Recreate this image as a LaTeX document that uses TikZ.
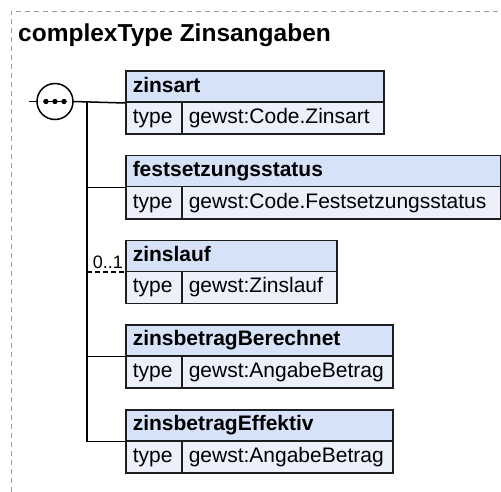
\documentclass[tikz,border=0pt]{standalone}
\usepackage{fontspec}
\setmainfont{Liberation Sans}
\definecolor{hdrc}{HTML}{D6E2F8}
\definecolor{rowc}{HTML}{EBF0FB}
\definecolor{bordc}{HTML}{1E1E1E}
\definecolor{framec}{HTML}{9A9A9A}
\tikzset{
  cell/.style={draw=bordc, line width=1.5pt, anchor=north west, inner xsep=7pt, inner ysep=0pt, align=left, text height=15.2pt, text depth=4pt},
  hdr/.style={cell, fill=hdrc, minimum height=31pt, font=\fontsize{21}{24}\selectfont\bfseries},
  trow/.style={cell, fill=rowc, minimum height=32pt, font=\fontsize{21}{24}\selectfont},
  conn/.style={line width=1.5pt, draw=black},
  frame/.style={draw=framec, line width=0.9pt, dash pattern=on 5pt off 4pt},
}
\begin{document}
\begin{tikzpicture}[x=1pt,y=-1pt]
\useasboundingbox (0,0) rectangle (501,492);
\draw[frame] (11,492) -- (11,11) -- (501,11);
\node[anchor=base west, inner sep=0pt, font=\fontsize{24.5}{28}\selectfont\bfseries] (title) at (18,41.7) {complexType Zinsangaben};

% sequence compositor
\node[circle, draw=black, fill=white, line width=1.5pt, minimum size=36pt, inner sep=0pt, outer sep=0pt] (seq) at (55,101.5) {};
\coordinate (seqin) at (29,101.5);
\draw[conn] (seqin) -- (seq.west);
\draw[line width=1.5pt] (43,101.5) -- (67,101.5);
\fill (46,101.5) circle [radius=2.7] (55,101.5) circle [radius=2.7] (64,101.5) circle [radius=2.7];

% element 1
\node[hdr, text width=244pt] (h1) at (125,70.5) {zinsart};
\node[trow, text width=42pt] (t1) at (125,101.5) {type};
\node[trow, text width=188pt] (v1) at (181,101.5) {gewst:Code.Zinsart};
% element 2
\node[hdr, text width=361pt] (h2) at (125,155) {festsetzungsstatus};
\node[trow, text width=42pt] (t2) at (125,186) {type};
\node[trow, text width=305pt] (v2) at (181,186) {gewst:Code.Festsetzungsstatus};
% element 3
\node[hdr, text width=197pt] (h3) at (125,239.5) {zinslauf};
\node[trow, text width=42pt] (t3) at (125,270.5) {type};
\node[trow, text width=141pt] (v3) at (181,270.5) {gewst:Zinslauf};
% element 4
\node[hdr, text width=253pt] (h4) at (125,324) {zinsbetragBerechnet};
\node[trow, text width=42pt] (t4) at (125,355) {type};
\node[trow, text width=197pt] (v4) at (181,355) {gewst:AngabeBetrag};
% element 5
\node[hdr, text width=253pt] (h5) at (125,409) {zinsbetragEffektiv};
\node[trow, text width=42pt] (t5) at (125,440) {type};
\node[trow, text width=197pt] (v5) at (181,440) {gewst:AngabeBetrag};

% connectors
\coordinate (jtop) at (87,101.5);
\draw[conn] (seq.east) -- (h1.south west);
\draw[conn] (jtop) -- (jtop |- h5.south west);
\draw[conn] (jtop |- h2.south west) -- (h2.south west);
\draw[conn, dash pattern=on 5pt off 3pt] (jtop |- h3.south west) -- (h3.south west);
\draw[conn] (jtop |- h4.south west) -- (h4.south west);
\draw[conn] (jtop |- h5.south west) -- (h5.south west);
\node[anchor=base east, inner sep=0pt, font=\fontsize{18}{20}\selectfont] (occ) at (123,268.5) {0..1};
\end{tikzpicture}
\end{document}
